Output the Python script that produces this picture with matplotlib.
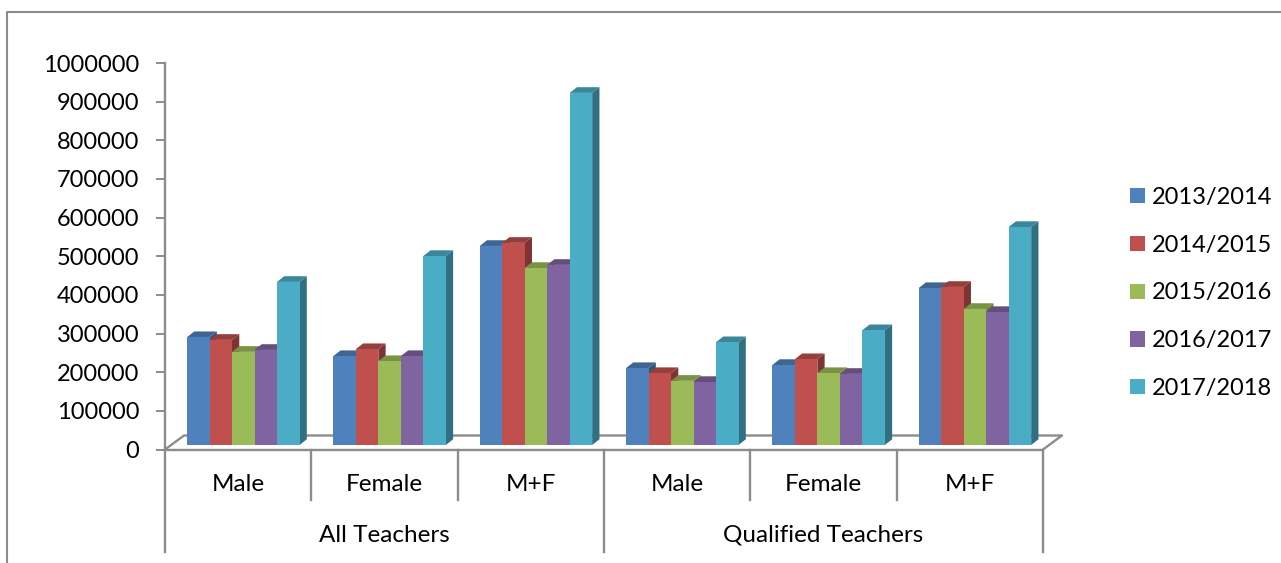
import numpy as np
import matplotlib
matplotlib.use('Agg')
import matplotlib.pyplot as plt
from matplotlib.lines import Line2D
from matplotlib.patches import Patch
from matplotlib.colors import to_rgb

plt.rcParams['font.family'] = ['Lato', 'DejaVu Sans']

# 数据
categories = ['Male', 'Female', 'M+F', 'Male', 'Female', 'M+F']
groups = ['All Teachers', 'Qualified Teachers']
years = ['2013/2014', '2014/2015', '2015/2016', '2016/2017', '2017/2018']
y_ticks = [0, 100000, 200000, 300000, 400000, 500000, 600000, 700000, 800000, 900000, 1000000]
v_2013 = [279000, 230000, 515000, 199000, 207000, 406000]
v_2014 = [272000, 248000, 523000, 186000, 222000, 409000]
v_2015 = [241000, 217000, 458000, 166000, 186000, 352000]
v_2016 = [246000, 230000, 466000, 163000, 184000, 344000]
v_2017 = [422000, 489000, 911000, 266000, 297000, 564000]
series = [v_2013, v_2014, v_2015, v_2016, v_2017]
colors = ['#4F81BD', '#C0504D', '#9BBB59', '#8064A2', '#4BACC6']

W, H = 1281, 563
GREY = '#8C8C8C'
fig = plt.figure(figsize=(W / 100, H / 100), dpi=100)
ax = fig.add_axes([165 / W, 1 - 449.5 / H, 878 / W, 386.5 / H])
ax.set_xlim(0, 6)
ax.set_ylim(0, 1000000)
for s in ax.spines.values():
    s.set_visible(False)

# 像素换算成数据单位
px_x = 6 / 878
px_y = 1000000 / 386.5
bar_w = 22.5 * px_x
dx = 7.3 * px_x
dy = 5.7 * px_y
base = 4.5 * px_y
start = 22 * px_x


def shade(c, f):
    return tuple(v * f for v in to_rgb(c))


# 地板
lw = 1.7
floor_dx = 19 * px_x
floor_dy = 14 * px_y
ax.plot([0, floor_dx, 6 + floor_dx, 6], [0, floor_dy, floor_dy, 0], color=GREY, lw=lw, clip_on=False, zorder=1)

# 三维柱子
z = 3
for g in range(6):
    for i, vals in enumerate(series):
        x0 = g + start + i * bar_w
        top = base + vals[g]
        ax.bar(x0, vals[g], bar_w, bottom=base, align='edge', color=colors[i], zorder=z + 1, clip_on=False)
        ax.fill([x0 + bar_w, x0 + bar_w + dx, x0 + bar_w + dx, x0 + bar_w],
                [base, base + dy, top + dy, top], color=shade(colors[i], 0.65), lw=0, zorder=z, clip_on=False)
        ax.fill([x0, x0 + dx, x0 + bar_w + dx, x0 + bar_w],
                [top, top + dy, top + dy, top], color=shade(colors[i], 0.78), lw=0, zorder=z, clip_on=False)
        z += 2

# 坐标轴
ax.set_yticks(y_ticks)
ax.set_yticklabels([str(v) for v in y_ticks])
ax.tick_params(axis='y', length=6.5, width=1.4, color=GREY, labelsize=17, pad=12)
ax.set_xticks([])
ax.plot([0, 0], [-0.266e6, 1e6], color=GREY, lw=lw, clip_on=False, zorder=2)
ax.plot([0, 6], [0, 0], color=GREY, lw=lw, clip_on=False, zorder=200)
for t in [1, 2, 4, 5]:
    ax.plot([t, t], [0, -0.131e6], color=GREY, lw=lw, clip_on=False)
for t in [3, 6]:
    ax.plot([t, t], [0, -0.266e6], color=GREY, lw=lw, clip_on=False)

for g, name in enumerate(categories):
    ax.text(g + 0.5, -0.09e6, name, ha='center', va='center', fontsize=17.5, color='black')
for g, name in enumerate(groups):
    ax.text(g * 3 + 1.5, -0.222e6, name, ha='center', va='center', fontsize=17.5, color='black')

# 图例
handles = [Patch(color=c, lw=0) for c in colors]
ax.legend(handles, years, loc='center left', bbox_to_anchor=(1111 / W, 1 - 293 / H),
          bbox_transform=fig.transFigure, frameon=False, fontsize=17, handlelength=0.62,
          handleheight=0.62, handletextpad=0.3, labelspacing=1.13, borderpad=0.3)

# 外框
fig.add_artist(Line2D([7 / W, 7 / W, 1], [0, 1 - 12 / H, 1 - 12 / H], color=GREY, lw=1.5))

fig.savefig('out.png', dpi=100)
